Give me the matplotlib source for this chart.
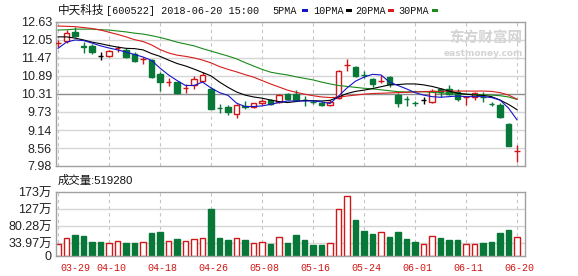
import numpy as np
import matplotlib.pyplot as plt
from matplotlib.patches import Rectangle
import matplotlib.transforms as mtransforms

# daily k-line, 2018-03-29 .. 2018-06-20 (55 trading days)
opens = [11.93, 12.03, 12.32, 11.86, 11.86, 11.54, 11.54, 11.77, 11.73, 11.60,
         11.43, 11.40, 10.94, 10.69, 10.68, 10.50, 10.60, 10.73, 10.47, 9.85,
         9.89, 9.66, 9.93, 9.87, 10.00, 10.11, 10.04, 10.31, 10.31, 10.12,
         10.05, 10.03, 9.95, 10.17, 11.23, 11.17, 10.93, 10.79, 10.73, 10.84,
         10.27, 10.14, 10.01, 10.11, 10.04, 10.46, 10.47, 10.38, 10.19, 10.20,
         10.23, 9.99, 9.95, 9.34, 8.47]
highs = [12.05, 12.36, 12.46, 11.98, 11.91, 11.65, 11.74, 11.86, 11.78, 11.65,
         11.51, 11.42, 11.03, 10.83, 10.70, 10.62, 10.89, 11.00, 10.52, 9.97,
         9.95, 9.98, 10.08, 10.03, 10.13, 10.15, 10.30, 10.34, 10.44, 10.24,
         10.11, 10.07, 10.10, 11.08, 11.43, 11.21, 11.05, 10.83, 10.92, 10.89,
         10.34, 10.24, 10.07, 10.20, 10.46, 10.49, 10.58, 10.47, 10.24, 10.38,
         10.38, 10.06, 10.01, 9.38, 8.66]
lows = [11.81, 11.95, 12.13, 11.63, 11.59, 11.41, 11.50, 11.67, 11.48, 11.35,
        11.26, 10.82, 10.40, 10.57, 10.31, 10.35, 10.46, 10.70, 9.82, 9.68,
        9.63, 9.52, 9.83, 9.84, 9.96, 9.94, 10.02, 10.12, 10.08, 9.93,
        9.97, 9.92, 9.92, 10.15, 11.06, 10.86, 10.81, 10.53, 10.65, 10.52,
        9.90, 9.92, 9.92, 9.98, 10.01, 10.21, 10.28, 10.09, 9.95, 10.11,
        10.06, 9.91, 9.52, 8.61, 8.12]
closes = [11.94, 12.26, 12.19, 11.82, 11.67, 11.54, 11.69, 11.78, 11.51, 11.38,
          11.44, 10.86, 10.70, 10.70, 10.33, 10.51, 10.78, 10.92, 9.82, 9.84,
          9.73, 9.95, 9.88, 10.00, 10.09, 9.97, 10.27, 10.14, 10.11, 10.11,
          10.04, 9.95, 10.05, 11.06, 11.24, 10.89, 10.91, 10.63, 10.74, 10.63,
          10.02, 10.13, 10.00, 10.11, 10.40, 10.37, 10.30, 10.13, 10.20, 10.33,
          10.22, 9.98, 9.57, 8.61, 8.48]
# volume in 万
vols = [32.4, 47.8, 56.8, 54.0, 38.7, 38.7, 36.0, 40.5, 36.0, 36.0,
        38.7, 63.0, 65.8, 40.5, 46.0, 40.5, 46.0, 49.5, 127.0, 49.5,
        43.2, 47.8, 43.2, 36.0, 37.8, 32.4, 50.5, 36.0, 56.8, 43.2,
        29.7, 29.7, 36.0, 127.0, 162.0, 97.3, 67.6, 59.5, 64.0, 52.3,
        64.9, 45.0, 38.7, 32.4, 53.2, 48.7, 43.2, 43.2, 32.4, 32.4,
        36.0, 38.7, 63.0, 70.3, 51.93]
ma5 = [11.78, 11.98, 12.05, 12.03, 11.95, 11.86, 11.79, 11.73, 11.66, 11.58,
       11.50, 11.39, 11.14, 10.92, 10.74, 10.58, 10.58, 10.69, 10.50, 10.35,
       10.26, 10.01, 9.90, 9.90, 9.92, 9.97, 10.03, 10.08, 10.08, 10.08,
       10.08, 10.05, 10.00, 10.24, 10.50, 10.72, 10.85, 10.94, 10.92, 10.69,
       10.58, 10.47, 10.35, 10.27, 10.22, 10.20, 10.22, 10.24, 10.22, 10.22,
       10.22, 10.19, 10.11, 9.85, 9.47]
ma10 = [12.15, 12.15, 12.11, 12.05, 11.98, 11.93, 11.87, 11.82, 11.78, 11.77,
        11.73, 11.61, 11.52, 11.40, 11.29, 11.21, 11.11, 11.00, 10.89, 10.69,
        10.52, 10.37, 10.27, 10.21, 10.17, 10.11, 10.06, 10.03, 10.06, 10.10,
        10.09, 10.08, 10.10, 10.21, 10.32, 10.39, 10.43, 10.48, 10.54, 10.60,
        10.61, 10.63, 10.63, 10.60, 10.55, 10.48, 10.40, 10.33, 10.30, 10.27,
        10.26, 10.22, 10.11, 9.97, 9.80]
ma20 = [12.50, 12.49, 12.48, 12.45, 12.42, 12.37, 12.30, 12.23, 12.15, 12.06,
        12.00, 11.89, 11.74, 11.63, 11.56, 11.52, 11.47, 11.40, 11.31, 11.19,
        11.10, 11.02, 10.93, 10.85, 10.74, 10.63, 10.53, 10.43, 10.36, 10.30,
        10.25, 10.21, 10.19, 10.20, 10.24, 10.27, 10.30, 10.32, 10.33, 10.34,
        10.35, 10.36, 10.37, 10.38, 10.39, 10.39, 10.40, 10.40, 10.40, 10.40,
        10.40, 10.39, 10.35, 10.27, 10.14]
ma30 = [12.37, 12.38, 12.40, 12.40, 12.40, 12.38, 12.37, 12.34, 12.31, 12.27,
        12.24, 12.19, 12.13, 12.06, 11.98, 11.92, 11.86, 11.77, 11.69, 11.61,
        11.53, 11.44, 11.32, 11.21, 11.10, 11.01, 10.96, 10.92, 10.86, 10.81,
        10.76, 10.69, 10.63, 10.58, 10.55, 10.52, 10.49, 10.47, 10.44, 10.41,
        10.38, 10.37, 10.38, 10.38, 10.36, 10.34, 10.32, 10.31, 10.30, 10.29,
        10.28, 10.27, 10.25, 10.21, 10.13]

price_ticks = [7.98, 8.56, 9.14, 9.73, 10.31, 10.89, 11.47, 12.05, 12.63]
vol_ticks = [0, 33.97, 80.28, 127, 173]
vol_tick_labels = ['0', '33.97万', '80.28万', '127万', '173万']
date_idx = [0, 6, 12, 18, 24, 30, 36, 42, 48, 54]
date_labels = ['03-29', '04-10', '04-18', '04-26', '05-08',
               '05-16', '05-24', '06-01', '06-11', '06-20']

RED = '#d01818'
GREEN = '#087838'
W, H = 578, 276

o = np.array(opens); c = np.array(closes)
x = np.arange(len(c))
prev = np.r_[c[0], c[:-1]]

fig = plt.figure(figsize=(W / 100, H / 100), dpi=100)
ax = fig.add_axes([56 / W, 110 / H, 469 / W, 144 / H])
axv = fig.add_axes([56 / W, 20 / H, 469 / W, 64 / H])

xlim = (-0.24, 54.94)
for a in (ax, axv):
    a.set_xlim(*xlim)
    for s in a.spines.values():
        s.set_color('#a0a0a0')
        s.set_linewidth(1)
    a.tick_params(length=0, labelsize=9, colors='#222222', pad=3)
    for xi in date_idx:
        a.axvline(xi, color='#c4c4c4', lw=0.8, ls=(0, (3, 3)), zorder=0)

# price panel
ax.set_ylim(price_ticks[0], price_ticks[-1])
ax.set_yticks(price_ticks)
ax.set_yticklabels(['%.2f' % t for t in price_ticks], family='Liberation Sans')
ax.set_xticks([])
for t in price_ticks[1:-1]:
    ax.axhline(t, color='#8c8c8c' if t == 10.31 else '#d6d6d6', lw=1, zorder=0)

bw = 0.68
for i in x:
    if c[i] > o[i]:
        col = RED
    elif c[i] < o[i]:
        col = GREEN
    else:
        col = 'black'
    ax.vlines(i, lows[i], highs[i], color=col, lw=1, zorder=2)
    if abs(c[i] - o[i]) < 0.015:
        ax.hlines(c[i], i - bw / 2, i + bw / 2, color=col, lw=1, zorder=3)
    else:
        fc = 'white' if c[i] > o[i] else col
        ax.add_patch(Rectangle((i - bw / 2, min(o[i], c[i])), bw, abs(c[i] - o[i]),
                               facecolor=fc, edgecolor=col, lw=1, zorder=3))

ax.plot(x, ma30, color='#1a8a1a', lw=0.8, zorder=4)
ax.plot(x, ma20, color='#d81c1c', lw=0.8, zorder=4)
ax.plot(x, ma10, color='black', lw=0.8, zorder=4)
ax.plot(x, ma5, color='#1414c8', lw=0.8, zorder=4)

# watermark
ax.text(0.995, 0.89, '东方财富网', transform=ax.transAxes, ha='right', va='center',
        fontsize=10.5, fontweight='bold', color='#d4d4d4', family='Noto Sans CJK SC', zorder=1)
ax.text(0.995, 0.78, 'eastmoney.com', transform=ax.transAxes, ha='right', va='center',
        fontsize=6.5, fontweight='bold', color='#d4d4d4', family='DejaVu Sans', zorder=1)

# volume panel
up = (c > o) | ((c == o) & (c >= prev))
axv.set_ylim(0, 173)
axv.set_yticks(vol_ticks)
axv.set_yticklabels(vol_tick_labels, family=['Liberation Sans', 'Noto Sans CJK SC'])
for t in vol_ticks[1:-1]:
    axv.axhline(t, color='#d6d6d6', lw=1, zorder=0)
axv.bar(x[up], np.array(vols)[up], width=0.68, facecolor='white', edgecolor=RED, lw=1, zorder=2)
axv.bar(x[~up], np.array(vols)[~up], width=0.68, facecolor=GREEN, edgecolor=GREEN, lw=1, zorder=2)
axv.set_xticks(date_idx)
axv.set_xticklabels(date_labels, family='Liberation Mono', fontsize=7.2, color=RED)
axv.tick_params(axis='x', pad=5)
shift = mtransforms.ScaledTranslation(2 / 100, 0, fig.dpi_scale_trans)
for k, lab in enumerate(axv.get_xticklabels()):
    lab.set_color(RED)
    lab.set_transform(lab.get_transform() + shift)
    if k == 0:
        lab.set_ha('left')

# header texts
fig.text(58 / W, 1 - 10.5 / H, '中天科技', family='Noto Sans CJK SC', fontsize=8.4,
         va='center', color='#111111')
fig.text(106 / W, 1 - 10.5 / H, '[600522] 2018-06-20 15:00', family='Liberation Mono',
         fontsize=7.3, va='center', color='#111111')
legend_items = [('5PMA', 272, 302, '#1414c8'), ('10PMA', 313, 346, 'black'),
                ('20PMA', 355, 388, '#d81c1c'), ('30PMA', 398, 432, '#1a8a1a')]
for name, tx, bx, col in legend_items:
    fig.text(tx / W, 1 - 10.5 / H, name, family='Liberation Mono', fontsize=7.3,
             va='center', color='#111111')
    fig.patches.append(Rectangle((bx / W, 1 - 12 / H), 6 / W, 3 / H, transform=fig.transFigure,
                                 facecolor=col, edgecolor='none'))
fig.text(58 / W, 1 - 180 / H, '成交量:519280', family=['Liberation Sans', 'Noto Sans CJK SC'],
         fontsize=8.2, va='center', color='#111111')

fig.savefig('out.png', dpi=100)
